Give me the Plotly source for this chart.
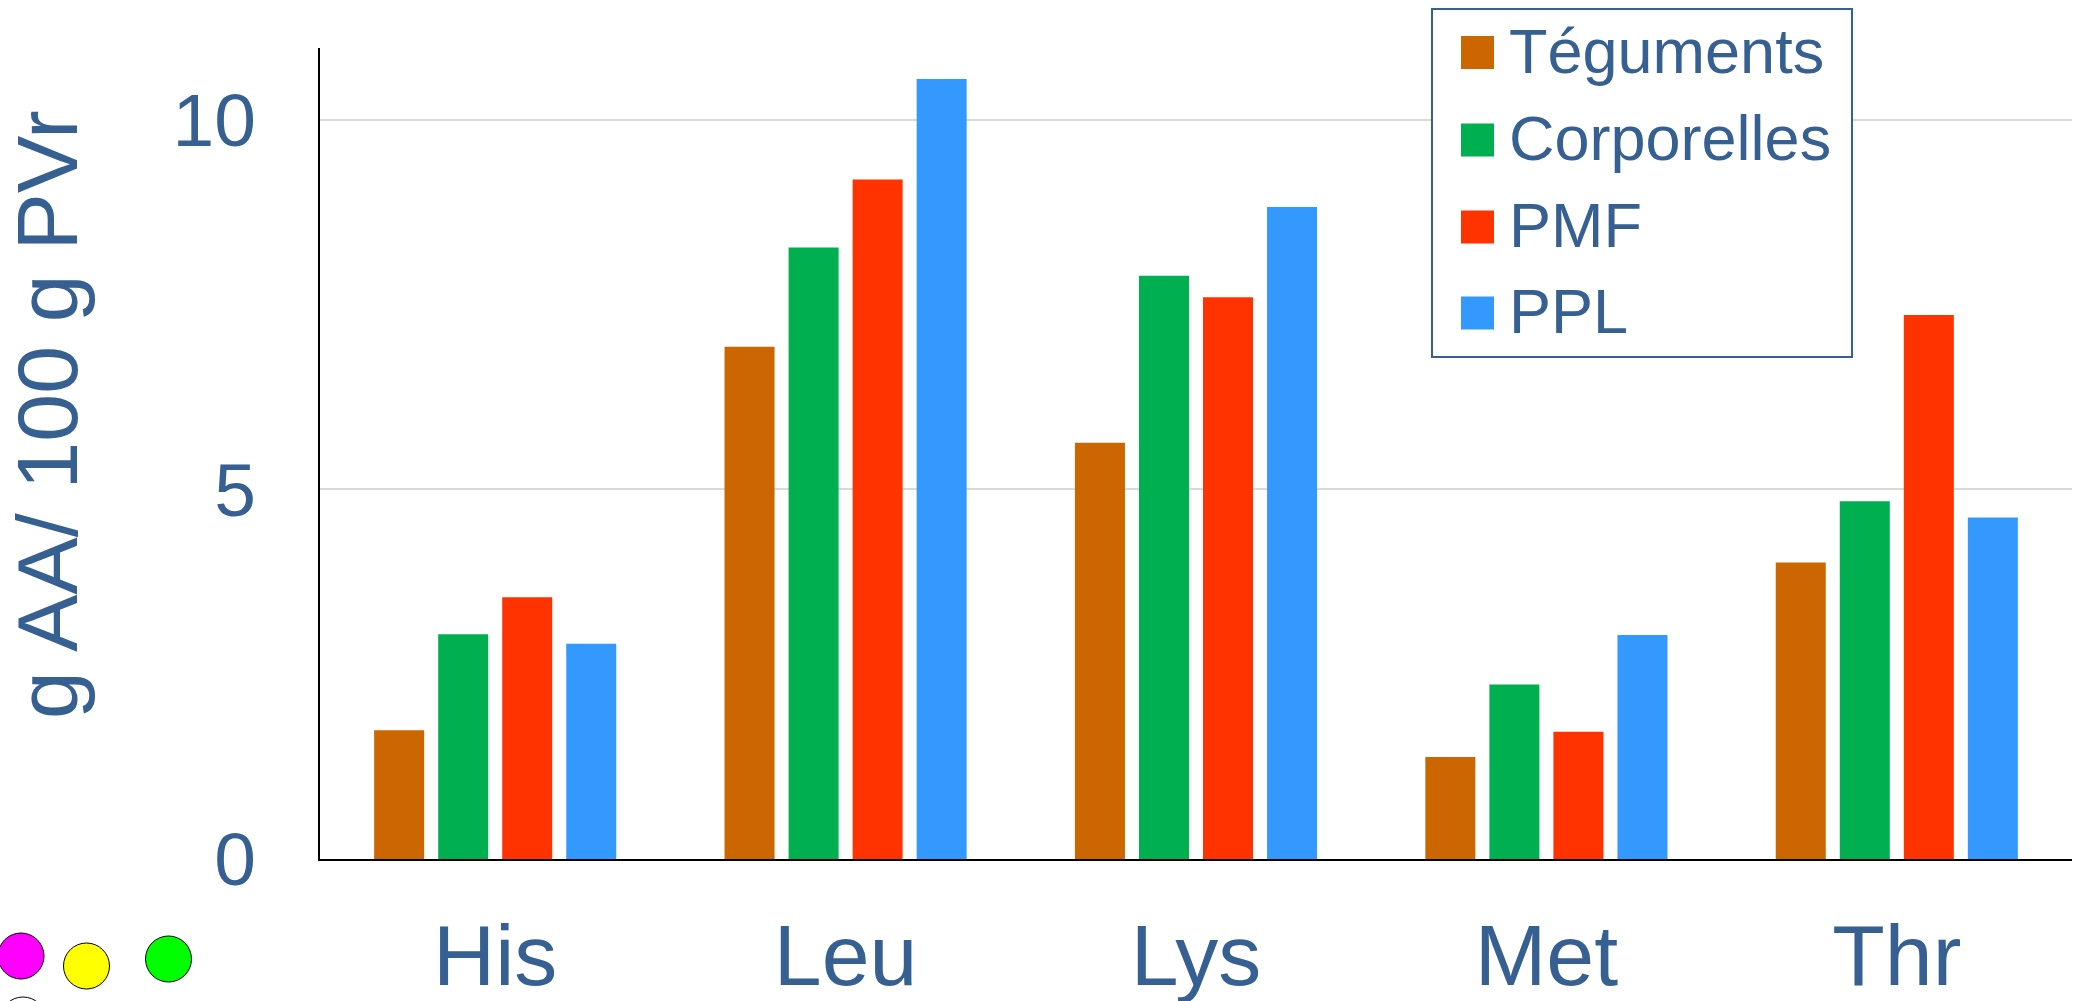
import plotly.graph_objects as go

# Amino acid content (g AA / 100 g PVr) by protein fraction
amino_acids = ["His", "Leu", "Lys", "Met", "Thr"]
teguments = [1.74, 6.93, 5.63, 1.38, 4.01]
corporelles = [3.04, 8.27, 7.89, 2.36, 4.84]
pmf = [3.54, 9.19, 7.60, 1.72, 7.36]
ppl = [2.91, 10.55, 8.82, 3.03, 4.62]

series_names = ["Téguments", "Corporelles", "PMF", "PPL"]
series_values = [teguments, corporelles, pmf, ppl]
series_colors = ["#CC6600", "#00B050", "#FF3300", "#3399FF"]

y_ticks = [0, 5, 10]

TEXT = "#376092"
FONT = "Liberation Sans, Arial, sans-serif"

W, H = 2075, 1001
ML, MR, MT, MB = 320, 3, 48, 142
PW, PH = W - ML - MR, H - MT - MB


def px(x):
    return (x - ML) / PW


def py(y):
    return (H - MB - y) / PH


fig = go.Figure()
for name, vals, col in zip(series_names, series_values, series_colors):
    fig.add_trace(go.Bar(x=amino_acids, y=vals, name=name,
                         marker=dict(color=col, line=dict(width=0))))

shapes = []
annotations = []

# Custom legend box with large swatches
shapes.append(dict(type="rect", xref="paper", yref="paper",
                   x0=px(1432), x1=px(1852), y0=py(357), y1=py(9),
                   line=dict(color=TEXT, width=2), fillcolor="white",
                   layer="above"))
swatch_rows = [52.5, 140, 227, 313]
text_rows = [51, 137.5, 224.5, 311]
for name, col, sy, ty in zip(series_names, series_colors, swatch_rows, text_rows):
    shapes.append(dict(type="rect", xref="paper", yref="paper",
                       x0=px(1461), x1=px(1494), y0=py(sy + 16.5), y1=py(sy - 16.5),
                       line=dict(width=0), fillcolor=col, layer="above"))
    annotations.append(dict(text=name, xref="paper", yref="paper",
                            x=px(1507), y=py(ty), xanchor="left", yanchor="middle",
                            showarrow=False, font=dict(size=63, color=TEXT, family=FONT)))

# Y-axis title
annotations.append(dict(text="g AA/ 100 g PVr", xref="paper", yref="paper",
                        x=px(47), y=py(415), xanchor="center", yanchor="middle",
                        textangle=-90, showarrow=False,
                        font=dict(size=86, color=TEXT, family=FONT)))

# Decorative dots in the lower-left corner
dots = [(21, 956, 23, "#FF00FF"), (86.5, 966, 23, "#FFFF00"),
        (168.5, 959, 23, "#00FF00"), (23, 1020, 23, "#FFFFFF")]
for cx, cy, r, col in dots:
    shapes.append(dict(type="circle", xref="paper", yref="paper",
                       xsizemode="pixel", ysizemode="pixel",
                       xanchor=px(cx), yanchor=py(cy),
                       x0=-r, x1=r, y0=-r, y1=r,
                       line=dict(color="black", width=1), fillcolor=col))

fig.update_layout(
    width=W, height=H,
    margin=dict(l=ML, r=MR, t=MT, b=MB, pad=0, autoexpand=False),
    paper_bgcolor="white", plot_bgcolor="white",
    barmode="group", bargap=0.269, bargroupgap=0.219,
    showlegend=False,
    font=dict(family=FONT, color=TEXT),
    shapes=shapes, annotations=annotations,
)
fig.update_xaxes(
    automargin=False,
    showline=True, linecolor="black", linewidth=2,
    showgrid=False, ticks="", tickfont=dict(size=86, color=TEXT, family=FONT),
    ticklabelstandoff=21,
)
fig.update_yaxes(
    automargin=False,
    range=[0, 10.97], tickvals=y_ticks, ticktext=[str(v) for v in y_ticks],
    showline=True, linecolor="black", linewidth=2,
    showgrid=True, gridcolor="#D9D9D9", gridwidth=2,
    zeroline=False, ticks="", tickfont=dict(size=75, color=TEXT, family=FONT),
    ticklabelstandoff=47,
)

fig.write_html("out.html")
